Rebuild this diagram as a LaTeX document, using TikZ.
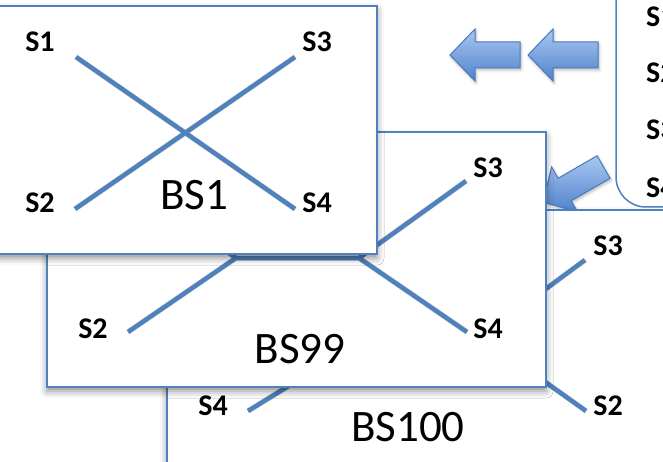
\documentclass[tikz,border=0pt]{standalone}
\usepackage{fontspec}
\setmainfont{Carlito}
\usetikzlibrary{shadows.blur}

\definecolor{lineblue}{RGB}{79,129,189}
\definecolor{arrowtop}{RGB}{168,199,240}
\definecolor{arrowbot}{RGB}{80,130,205}
\definecolor{arrowedge}{RGB}{72,122,190}

\tikzset{
  panel/.style={draw=lineblue, line width=1.5pt, fill=white,
    blur shadow={shadow xshift=0pt, shadow yshift=-4pt, shadow blur radius=7pt, shadow opacity=45}},
  listpanel/.style={draw=lineblue, line width=1.5pt, fill=white, rounded corners=30pt},
  link/.style={draw=lineblue, line width=4.5pt},
  linkshade/.style={draw=black, opacity=0.14, line width=5.5pt, yshift=-2.5pt},
  slabel/.style={font=\fontsize{30}{31}\selectfont\bfseries, anchor=base, inner sep=0pt},
  bslabel/.style={font=\fontsize{45}{50}\selectfont, anchor=base, inner sep=0pt},
  blockarrow/.style={draw=arrowedge, line width=1pt, top color=arrowtop, bottom color=arrowbot,
    line join=miter,
    blur shadow={shadow xshift=1pt, shadow yshift=-2pt, shadow blur radius=3pt, shadow opacity=30}}
}

\begin{document}
\begin{tikzpicture}[x=1pt,y=-1pt]
\useasboundingbox (0,0) rectangle (663,462);
\clip (0,0) rectangle (663,462);

% list of streams, top right
\draw[listpanel] (616,-60) -- (616,207) -- (720,207);
\node[slabel, anchor=base west] (l1) at (646,27) {S1};
\node[slabel, anchor=base west] (l2) at (646,83) {S2};
\node[slabel, anchor=base west] (l3) at (646,140) {S3};
\node[slabel, anchor=base west] (l4) at (646,198) {S4};

% block arrows
\draw[blockarrow] (450,55) -- (475,29) -- (475,42) -- (520,42) -- (520,68) -- (475,68) -- (475,81) -- cycle;
\draw[blockarrow] (528,55) -- (553,29) -- (553,42) -- (598,42) -- (598,68) -- (553,68) -- (553,81) -- cycle;
\draw[blockarrow] (543,202) -- (577.65,212.0) -- (571.15,200.76) -- (610.1,178.26)
   -- (597.1,155.74) -- (558.15,178.24) -- (551.65,167.0) -- cycle;

% BS100
\draw[panel] (167,210) rectangle (720,520);
\coordinate (c3) at (585,260);
\coordinate (c2) at (586,411);
\coordinate (c4) at (248,411);
\coordinate (m3) at (520,308);
\coordinate (m2) at (520,364);
\coordinate (m4) at (300,379);
\draw[linkshade] (c3) -- (m3) (c2) -- (m2) (c4) -- (m4);
\draw[link] (c3) -- (m3) (c2) -- (m2) (c4) -- (m4);
\node[slabel] (c3l) at (608,255) {S3};
\node[slabel] (c2l) at (608,415) {S2};
\node[slabel] (c4l) at (213,415) {S4};
\node[bslabel] (bs100) at (408,441) {BS100};

% BS99
\draw[panel] (47,132) rectangle (546,387);
\coordinate (b1) at (128,181);
\coordinate (b2) at (128,332);
\coordinate (b3) at (466,181);
\coordinate (b4) at (467,332);
\coordinate (bl) at (236,258);
\coordinate (br) at (359,258);
\draw[linkshade] (b1) -- (bl) -- (b2) (bl) -- (br) (b3) -- (br) -- (b4);
\draw[link] (b1) -- (bl) -- (b2) (bl) -- (br) (b3) -- (br) -- (b4);
\node[slabel] (b3l) at (488,178) {S3};
\node[slabel] (b2l) at (93,338) {S2};
\node[slabel] (b4l) at (488,338) {S4};
\node[bslabel] (bs99) at (300,363) {BS99};

% BS1
\draw[panel] (-20,6) rectangle (377,254);
\coordinate (a1) at (76,57);
\coordinate (a4) at (295,209);
\coordinate (a3) at (295,57);
\coordinate (a2) at (75,209);
\draw[linkshade] (a1) -- (a4) (a3) -- (a2);
\draw[link] (a1) -- (a4) (a3) -- (a2);
\node[slabel] (a1l) at (40,52) {S1};
\node[slabel] (a3l) at (317,52) {S3};
\node[slabel] (a2l) at (40,212) {S2};
\node[slabel] (a4l) at (317,212) {S4};
\node[bslabel] (bs1) at (194,210) {BS1};
\end{tikzpicture}
\end{document}
